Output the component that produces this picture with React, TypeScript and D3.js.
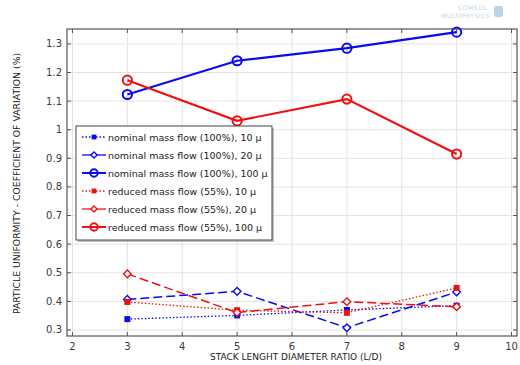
import React from 'react';
import * as d3 from 'd3';

const ratios = [3, 5, 7, 9];
const nominal10 = [0.338, 0.351, 0.37, 0.385];
const nominal20 = [0.407, 0.435, 0.308, 0.433];
const nominal100 = [1.123, 1.241, 1.285, 1.341];
const reduced10 = [0.398, 0.369, 0.36, 0.447];
const reduced20 = [0.496, 0.361, 0.399, 0.381];
const reduced100 = [1.173, 1.031, 1.107, 0.915];

const xTicks = [2, 3, 4, 5, 6, 7, 8, 9, 10];
const yTicks = [0.3, 0.4, 0.5, 0.6, 0.7, 0.8, 0.9, 1, 1.1, 1.2, 1.3];

const BLUE = '#0a0aee';
const RED = '#ee1111';

type Series = { name: string; values: number[]; color: string; marker: 'square' | 'diamond' | 'circle'; dash: string; width: number };

const series: Series[] = [
  { name: 'nominal mass flow (100%), 10 µ', values: nominal10, color: BLUE, marker: 'square', dash: '1.5,2', width: 1.3 },
  { name: 'nominal mass flow (100%), 20 µ', values: nominal20, color: BLUE, marker: 'diamond', dash: '9,4', width: 1.5 },
  { name: 'nominal mass flow (100%), 100 µ', values: nominal100, color: BLUE, marker: 'circle', dash: '', width: 2.2 },
  { name: 'reduced mass flow (55%), 10 µ', values: reduced10, color: RED, marker: 'square', dash: '1.5,2', width: 1.3 },
  { name: 'reduced mass flow (55%), 20 µ', values: reduced20, color: RED, marker: 'diamond', dash: '9,4', width: 1.5 },
  { name: 'reduced mass flow (55%), 100 µ', values: reduced100, color: RED, marker: 'circle', dash: '', width: 2.2 },
];

const W = 520;
const H = 365;
const L = 67, R = 517, T = 29, B = 336;

const Marker = ({ type, x, y, color, small }: { type: string; x: number; y: number; color: string; small?: boolean }) => {
  const k = small ? 0.8 : 1;
  if (type === 'square') return <rect x={x - 3 * k} y={y - 3 * k} width={6 * k} height={6 * k} fill={color} />;
  if (type === 'diamond') {
    const s = 3.8 * k;
    return <path d={`M${x},${y - s}L${x + s},${y}L${x},${y + s}L${x - s},${y}Z`} fill="white" stroke={color} strokeWidth={1.4} />;
  }
  return <circle cx={x} cy={y} r={4.6 * k} fill="none" stroke={color} strokeWidth={2} />;
};

export default function App() {
  const x = d3.scaleLinear().domain([1.9, 10.1]).range([L, R]);
  const y = d3.scaleLinear().domain([0.279, 1.352]).range([B, T]);
  const line = d3.line<number>().x((_, i) => x(ratios[i])).y(d => y(d));
  const fmt = (v: number) => (v === 1 ? '1' : d3.format('.1f')(v));
  const font = '"DejaVu Sans", sans-serif';

  const legX = 76, legY = 126, legW = 196, legH = 114;

  return (
    <svg width={W} height={H} style={{ position: 'absolute', left: 0, top: 0, fontFamily: font }}>
      <rect width={W} height={H} fill="white" />
      {/* grid */}
      {xTicks.map(t => <line key={'gx' + t} x1={x(t)} x2={x(t)} y1={T} y2={B} stroke="#e3e3e3" strokeWidth={1} />)}
      {yTicks.map(t => <line key={'gy' + t} x1={L} x2={R} y1={y(t)} y2={y(t)} stroke="#e3e3e3" strokeWidth={1} />)}
      {/* ticks */}
      {xTicks.map(t => (
        <g key={'tx' + t}>
          <line x1={x(t)} x2={x(t)} y1={B} y2={B - 4} stroke="#555" />
          <line x1={x(t)} x2={x(t)} y1={T} y2={T + 4} stroke="#555" />
          <text x={x(t)} y={B + 14} fontSize={10} fill="#3a3a3a" textAnchor="middle">{t}</text>
        </g>
      ))}
      {yTicks.map(t => (
        <g key={'ty' + t}>
          <line x1={L} x2={L + 4} y1={y(t)} y2={y(t)} stroke="#555" />
          <line x1={R} x2={R - 4} y1={y(t)} y2={y(t)} stroke="#555" />
          <text x={L - 5} y={y(t) + 3.5} fontSize={10} fill="#3a3a3a" textAnchor="end">{fmt(t)}</text>
        </g>
      ))}
      <rect x={L} y={T} width={R - L} height={B - T} fill="none" stroke="#555" strokeWidth={1.2} />
      {/* series */}
      {series.map(s => (
        <g key={s.name}>
          <path d={line(s.values) || ''} fill="none" stroke={s.color} strokeWidth={s.width} strokeDasharray={s.dash} />
          {s.values.map((v, i) => <Marker key={i} type={s.marker} x={x(ratios[i])} y={y(v)} color={s.color} />)}
        </g>
      ))}
      {/* legend */}
      <rect x={legX + 2} y={legY + 2} width={legW} height={legH} fill="#999" opacity={0.6} />
      <rect x={legX} y={legY} width={legW} height={legH} fill="white" stroke="#444" strokeWidth={1} />
      {series.map((s, i) => {
        const ly = legY + 11 + i * 18;
        return (
          <g key={'l' + i}>
            <line x1={legX + 6} x2={legX + 30} y1={ly} y2={ly} stroke={s.color} strokeWidth={s.width > 2 ? 2 : 1.3} strokeDasharray={s.dash === '1.5,2' ? '1.5,2' : ''} />
            <Marker type={s.marker} x={legX + 18} y={ly} color={s.color} small />
            <text x={legX + 32} y={ly + 3.5} fontSize={9.5} fill="#222">{s.name}</text>
          </g>
        );
      })}
      {/* axis labels */}
      <text x={296} y={360} fontSize={9} fill="#222" textAnchor="middle">STACK LENGHT DIAMETER RATIO (L/D)</text>
      <text transform={`translate(20,${(T + B) / 2 + 1}) rotate(-90)`} fontSize={9.3} fill="#222" textAnchor="middle">PARTICLE UNIFORMITY - COEFFICIENT OF VARIATION (%)</text>
      {/* watermark */}
      <text x={487} y={10} fontSize={6} fill="#c4d2e0" textAnchor="end" letterSpacing={0.5}>COMSOL</text>
      <text x={490} y={18} fontSize={6} fill="#c4d2e0" textAnchor="end" letterSpacing={0.5}>MULTIPHYSICS</text>
      <rect x={494} y={6} width={9} height={11} rx={2} fill="#a9cae4" opacity={0.8} />
    </svg>
  );
}
